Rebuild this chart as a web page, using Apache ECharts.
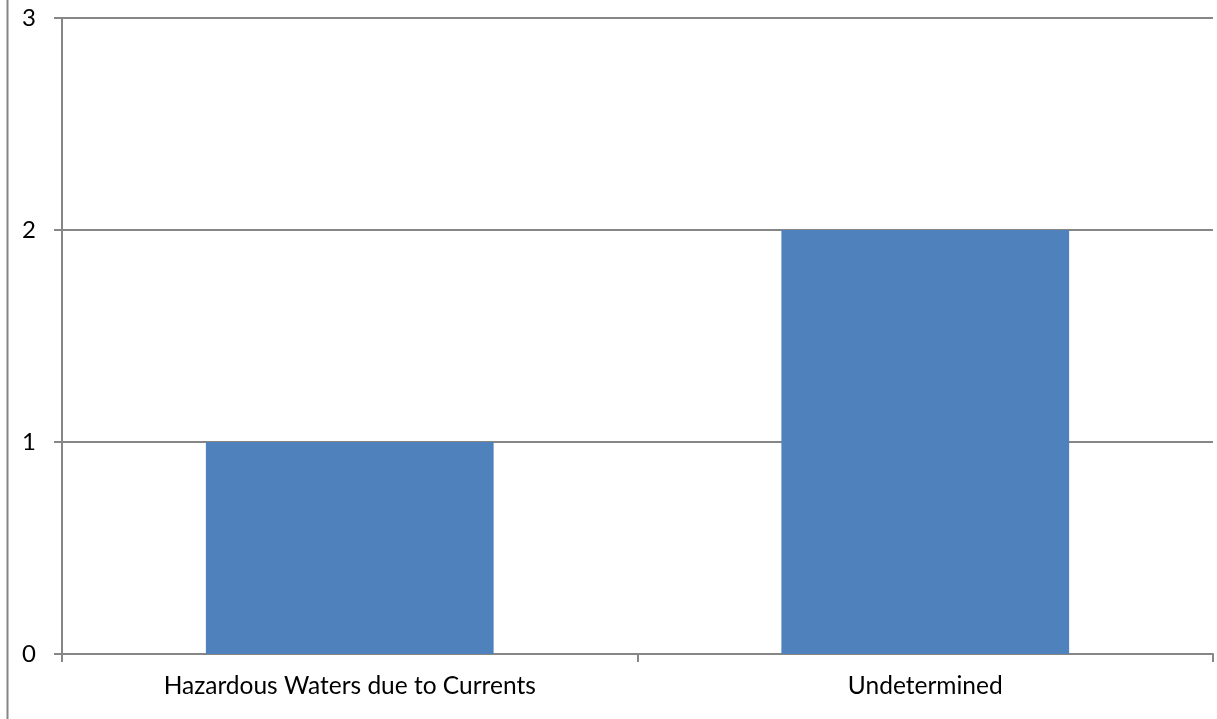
<!DOCTYPE html>
<html>
<head>
<meta charset="utf-8">
<script src="https://cdn.jsdelivr.net/npm/echarts@6/dist/echarts.min.js"></script>
<style>
html,body{margin:0;padding:0;background:#fff;}
#chart{width:1217px;height:719px;}
</style>
</head>
<body>
<div id="chart"></div>
<script>
var categories = ['Hazardous Waters due to Currents', 'Undetermined'];
var counts = [1, 2];
var yTicks = [0, 1, 2, 3];

var myChart = echarts.init(document.getElementById('chart'));
var axisGray = '#868686';
var option = {
  animation: false,
  backgroundColor: '#fff',
  textStyle: { fontFamily: 'Lato' },
  graphic: [{
    type: 'line',
    shape: { x1: 7.5, y1: 0, x2: 7.5, y2: 719 },
    style: { stroke: axisGray, lineWidth: 2 }
  }],
  grid: { left: 62, right: 4, top: 18, bottom: 65 },
  xAxis: {
    type: 'category',
    data: categories,
    axisLine: { lineStyle: { color: axisGray, width: 2 } },
    axisTick: { show: true, alignWithLabel: false, length: 8, lineStyle: { color: axisGray, width: 2 } },
    axisLabel: { color: '#000', fontSize: 24.5, margin: 20, fontFamily: 'Lato' }
  },
  yAxis: {
    type: 'value',
    min: yTicks[0],
    max: yTicks[yTicks.length - 1],
    interval: 1,
    axisLine: { show: true, lineStyle: { color: axisGray, width: 2 } },
    axisTick: { show: true, length: 8, lineStyle: { color: axisGray, width: 2 } },
    splitLine: { lineStyle: { color: axisGray, width: 2 } },
    axisLabel: { color: '#000', fontSize: 24, margin: 26, fontFamily: 'Lato' }
  },
  series: [{
    type: 'bar',
    data: counts,
    barWidth: '50%',
    itemStyle: { color: '#4F81BD' }
  }]
};
myChart.setOption(option);
</script>
</body>
</html>
